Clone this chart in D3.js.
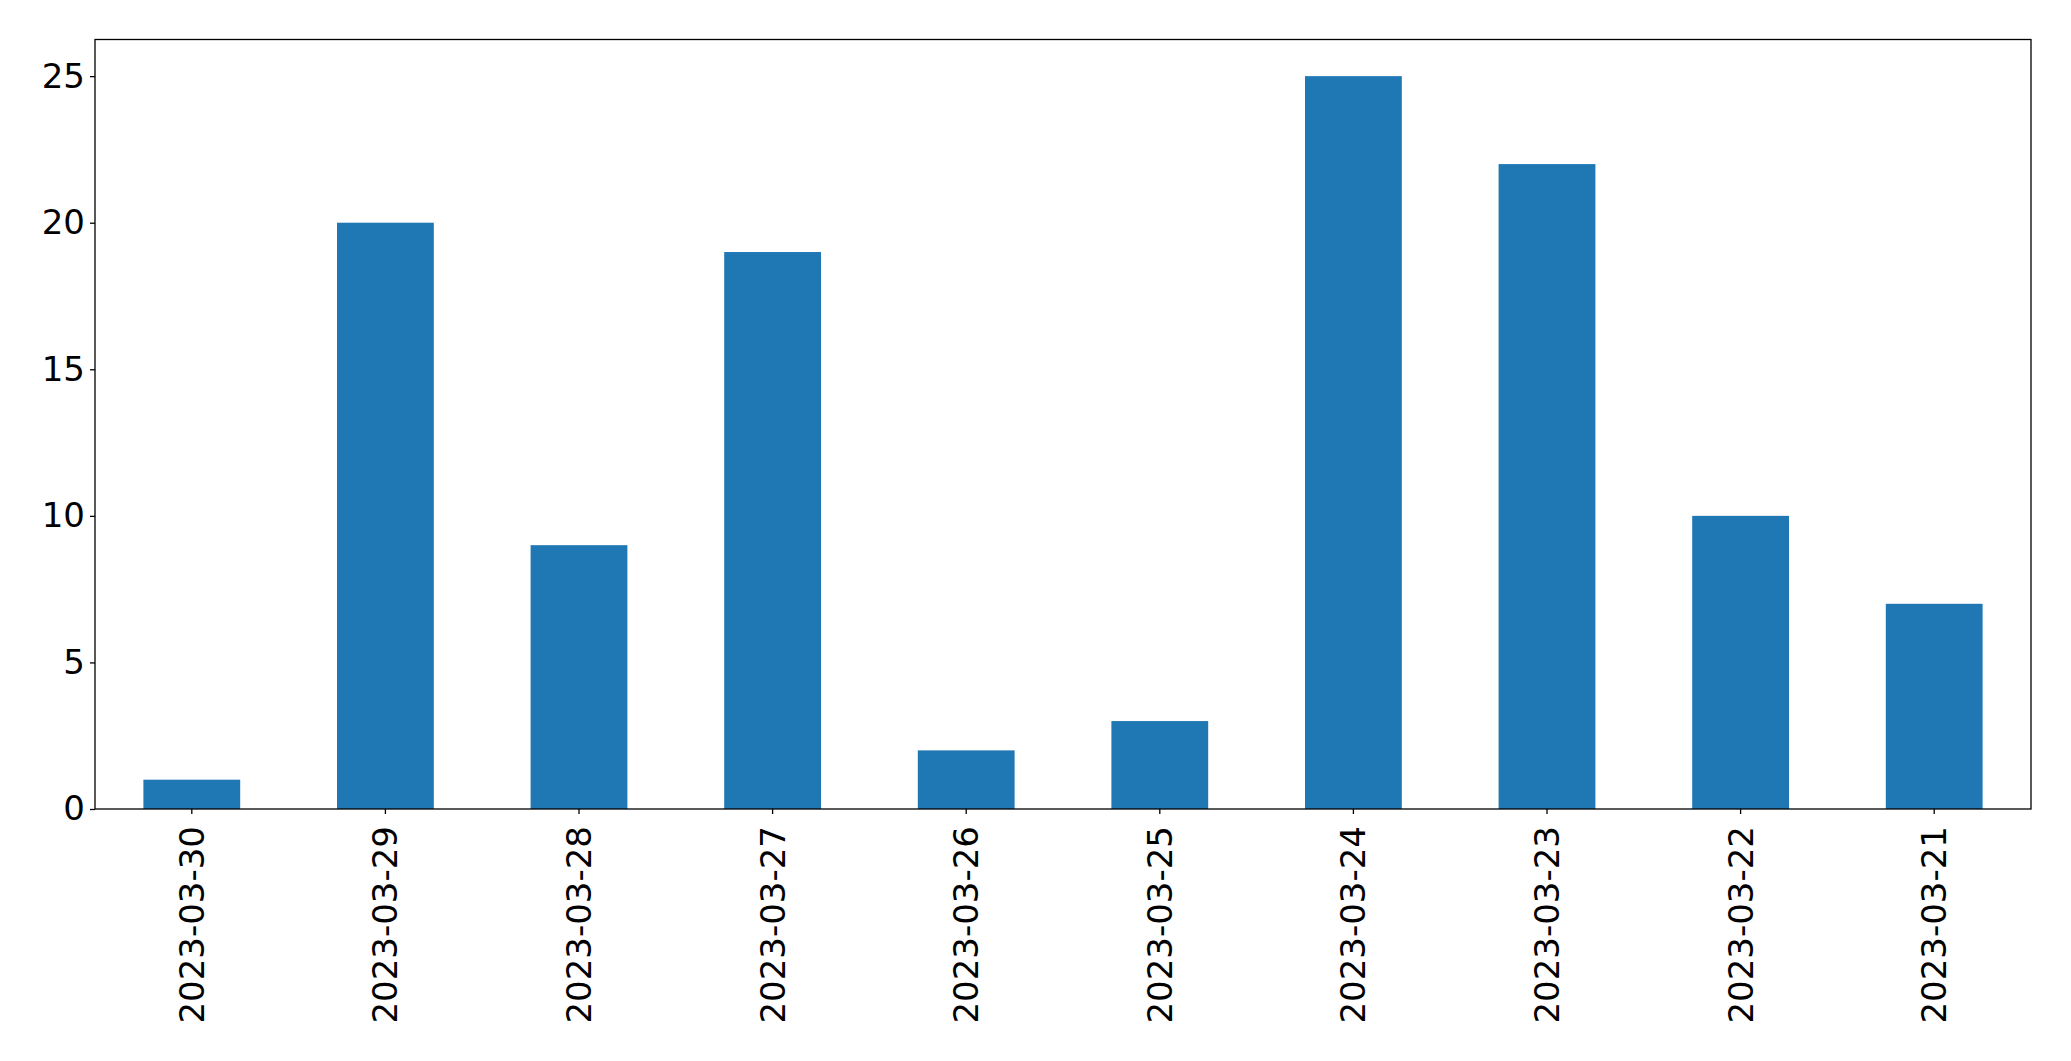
<!DOCTYPE html>
<html>
<head>
<meta charset="utf-8">
<script src="https://cdn.jsdelivr.net/npm/d3@7"></script>
<style>
  html, body { margin: 0; padding: 0; background: #fff; }
  svg { display: block; }
  text { font-family: "DejaVu Sans", sans-serif; }
</style>
</head>
<body>
<svg id="chart" width="2071" height="1061"></svg>
<script>
const categories = ["2023-03-30","2023-03-29","2023-03-28","2023-03-27","2023-03-26","2023-03-25","2023-03-24","2023-03-23","2023-03-22","2023-03-21"];
const values = [1, 20, 9, 19, 2, 3, 25, 22, 10, 7];
const yTicks = [0, 5, 10, 15, 20, 25];

const W = 2071, H = 1061;
const margin = { left: 95, right: 40, top: 39.5, bottom: 252 };
const plotW = W - margin.left - margin.right;
const plotH = H - margin.top - margin.bottom;

const svg = d3.select("#chart");
const g = svg.append("g").attr("transform", `translate(${margin.left},${margin.top})`);

const x = d3.scaleBand().domain(categories).range([0, plotW]).paddingInner(0.5).paddingOuter(0.25);
const y = d3.scaleLinear().domain([0, 26.25]).range([plotH, 0]);

g.selectAll("rect.bar").data(values).enter().append("rect")
  .attr("class", "bar")
  .attr("x", (d, i) => x(categories[i]))
  .attr("width", x.bandwidth())
  .attr("y", d => y(d))
  .attr("height", d => y(0) - y(d))
  .attr("fill", "#1f77b4");

const yAxis = g.append("g").call(d3.axisLeft(y).tickValues(yTicks).tickSize(5).tickPadding(5).tickFormat(d3.format("d")));
const xAxis = g.append("g").attr("transform", `translate(0,${plotH})`).call(d3.axisBottom(x).tickSize(5).tickPadding(8));

[yAxis, xAxis].forEach(a => {
  a.select(".domain").remove();
  a.selectAll(".tick line").attr("stroke", "#000").attr("stroke-width", 1.3);
  a.selectAll("text").attr("font-size", 34).attr("fill", "#000").attr("font-family", "DejaVu Sans, sans-serif");
});

xAxis.selectAll(".tick text")
  .attr("transform", "rotate(-90)")
  .attr("text-anchor", "end")
  .attr("x", -17)
  .attr("y", 0)
  .attr("dy", "0.35em");

g.append("rect")
  .attr("x", 0).attr("y", 0).attr("width", plotW).attr("height", plotH)
  .attr("fill", "none").attr("stroke", "#000").attr("stroke-width", 1.3);
</script>
</body>
</html>
